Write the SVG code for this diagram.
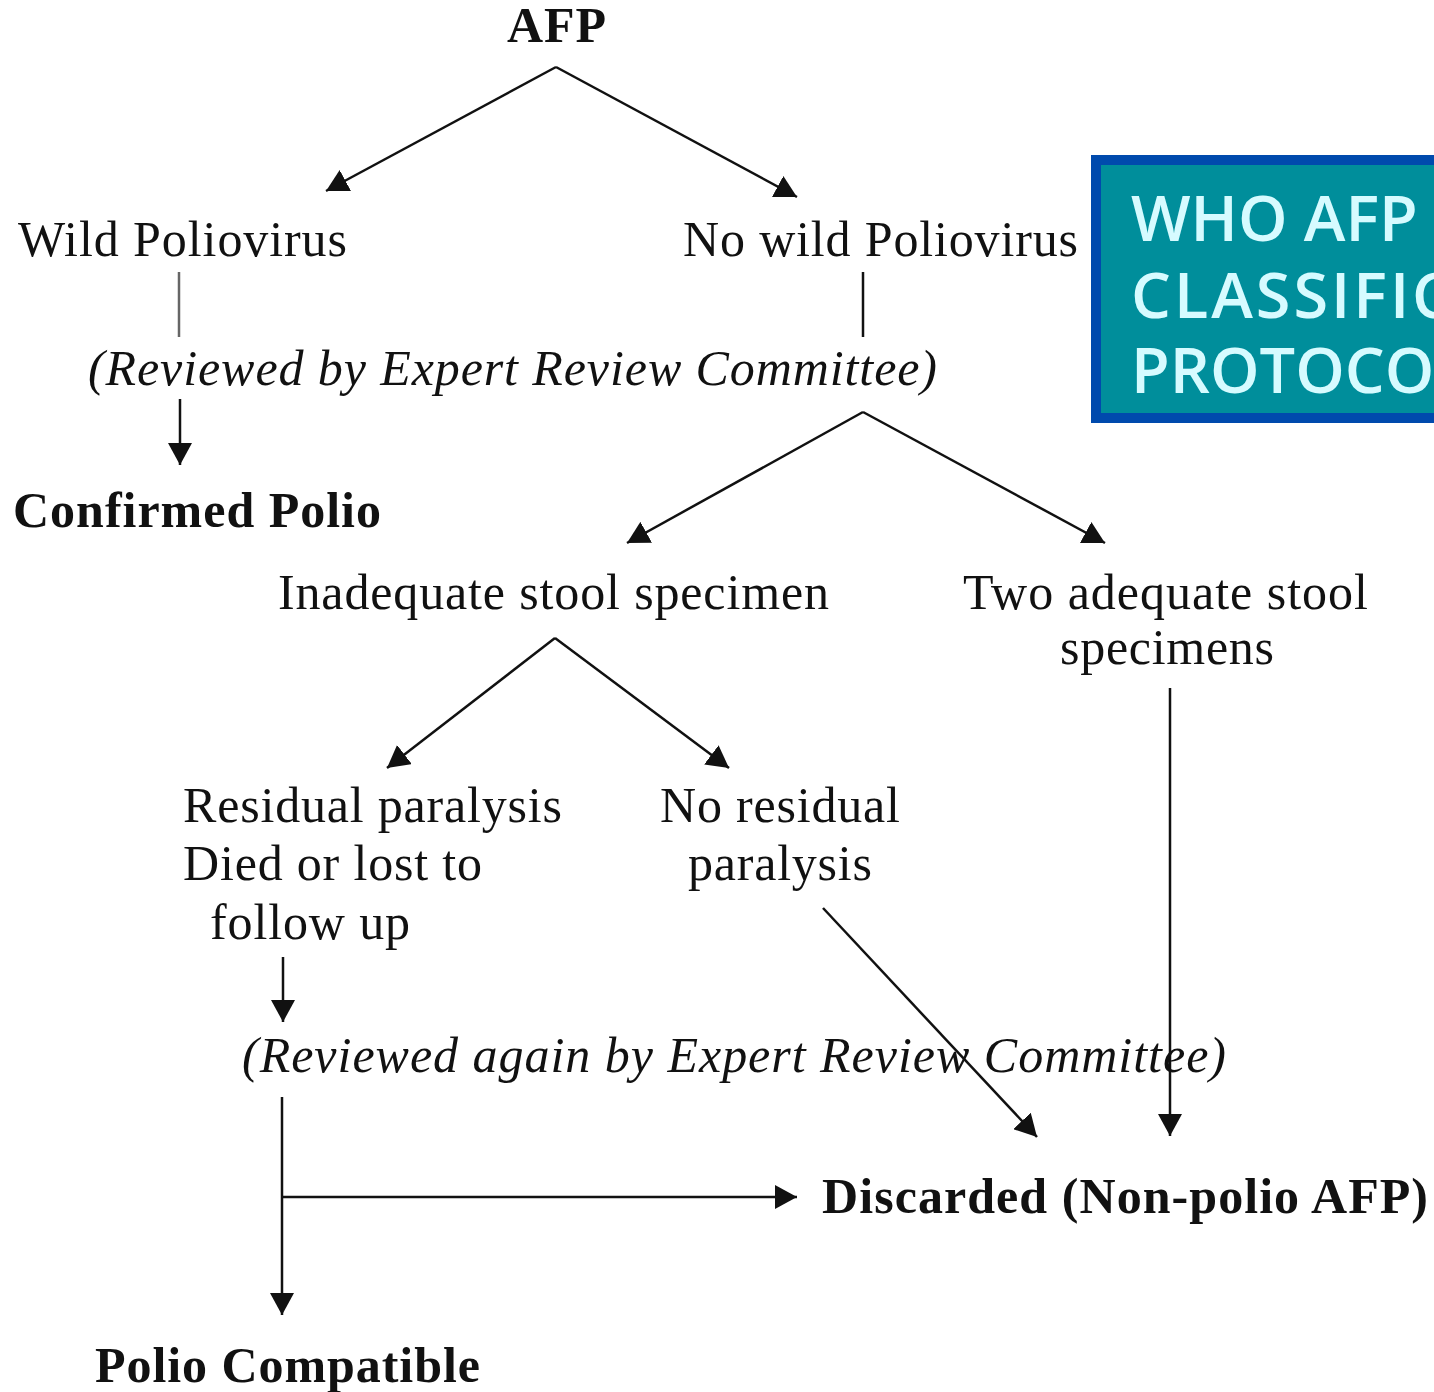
<svg xmlns="http://www.w3.org/2000/svg" width="1434" height="1392" viewBox="0 0 1434 1392">
<style>
.t{font-family:"Liberation Serif","Times New Roman",serif;font-size:50px;fill:#111}
.b{font-weight:bold}
.i{font-style:italic}
.c{stroke:#111;stroke-width:2.5;fill:none}
.g{stroke:#666;stroke-width:2.5;fill:none}
.bx{font-family:"Open Sans","Noto Sans",sans-serif;font-size:63px;font-weight:600;fill:#d6fbff}
</style>
<defs>
<marker id="ah" viewBox="0 0 22 24" refX="22" refY="12" markerWidth="22" markerHeight="24" markerUnits="userSpaceOnUse" orient="auto">
<path d="M0,0 L22,12 L0,24 Z" fill="#111"/>
</marker>
</defs>
<rect width="1434" height="1392" fill="#fff"/>
<g id="connectors">
<line class="c" x1="556" y1="67" x2="326" y2="191" marker-end="url(#ah)"/>
<line class="c" x1="556" y1="67" x2="797" y2="197" marker-end="url(#ah)"/>
<line class="g" x1="179" y1="272" x2="179" y2="337"/>
<line class="c" x1="180" y1="399" x2="180" y2="465" marker-end="url(#ah)"/>
<line class="c" x1="863" y1="272" x2="863" y2="337"/>
<line class="c" x1="863" y1="412" x2="627" y2="543" marker-end="url(#ah)"/>
<line class="c" x1="863" y1="412" x2="1105" y2="543" marker-end="url(#ah)"/>
<line class="c" x1="555" y1="638" x2="387" y2="768" marker-end="url(#ah)"/>
<line class="c" x1="555" y1="638" x2="729" y2="768" marker-end="url(#ah)"/>
<line class="c" x1="283" y1="957" x2="283" y2="1022" marker-end="url(#ah)"/>
<line class="c" x1="823" y1="908" x2="1037" y2="1137" marker-end="url(#ah)"/>
<line class="c" x1="1170" y1="688" x2="1170" y2="1136" marker-end="url(#ah)"/>
<line class="c" x1="282" y1="1097" x2="282" y2="1315" marker-end="url(#ah)"/>
<line class="c" x1="282" y1="1197" x2="797" y2="1197" marker-end="url(#ah)"/>
</g>
<g id="afp"><text class="t b" x="507" y="42" font-size="46" textLength="99">AFP</text></g>
<g id="wild"><text class="t" x="18" y="256" textLength="329">Wild Poliovirus</text></g>
<g id="nowild"><text class="t" x="683" y="256" textLength="395">No wild Poliovirus</text></g>
<g id="review1"><text class="t i" x="88" y="385" textLength="849">(Reviewed by Expert Review Committee)</text></g>
<g id="confirmed"><text class="t b" x="13" y="527" textLength="368">Confirmed Polio</text></g>
<g id="inadequate"><text class="t" x="278" y="609" textLength="551">Inadequate stool specimen</text></g>
<g id="twoadequate">
<text class="t" x="963" y="609" textLength="405">Two adequate stool</text>
<text class="t" x="1060" y="664" textLength="214">specimens</text>
</g>
<g id="residual">
<text class="t" x="183" y="822" textLength="379">Residual paralysis</text>
<text class="t" x="183" y="880" textLength="299">Died or lost to</text>
<text class="t" x="210" y="939" textLength="200">follow up</text>
</g>
<g id="noresidual">
<text class="t" x="660" y="822" textLength="240">No residual</text>
<text class="t" x="688" y="880" textLength="184">paralysis</text>
</g>
<g id="review2"><text class="t i" x="242" y="1072" textLength="984">(Reviewed again by Expert Review Committee)</text></g>
<g id="discarded"><text class="t b" x="822" y="1213" textLength="606">Discarded (Non-polio AFP)</text></g>
<g id="compatible"><text class="t b" x="95" y="1382" font-size="48" textLength="385">Polio Compatible</text></g>
<g id="titlebox">
<rect x="1096" y="160" width="360" height="258" fill="#008e9b" stroke="#004aad" stroke-width="10"/>
<text class="bx" x="1131" y="241">WHO AFP</text>
<text class="bx" x="1131" y="318" letter-spacing="3">CLASSIFICATION</text>
<text class="bx" x="1131" y="393">PROTOCOL</text>
</g>
</svg>
